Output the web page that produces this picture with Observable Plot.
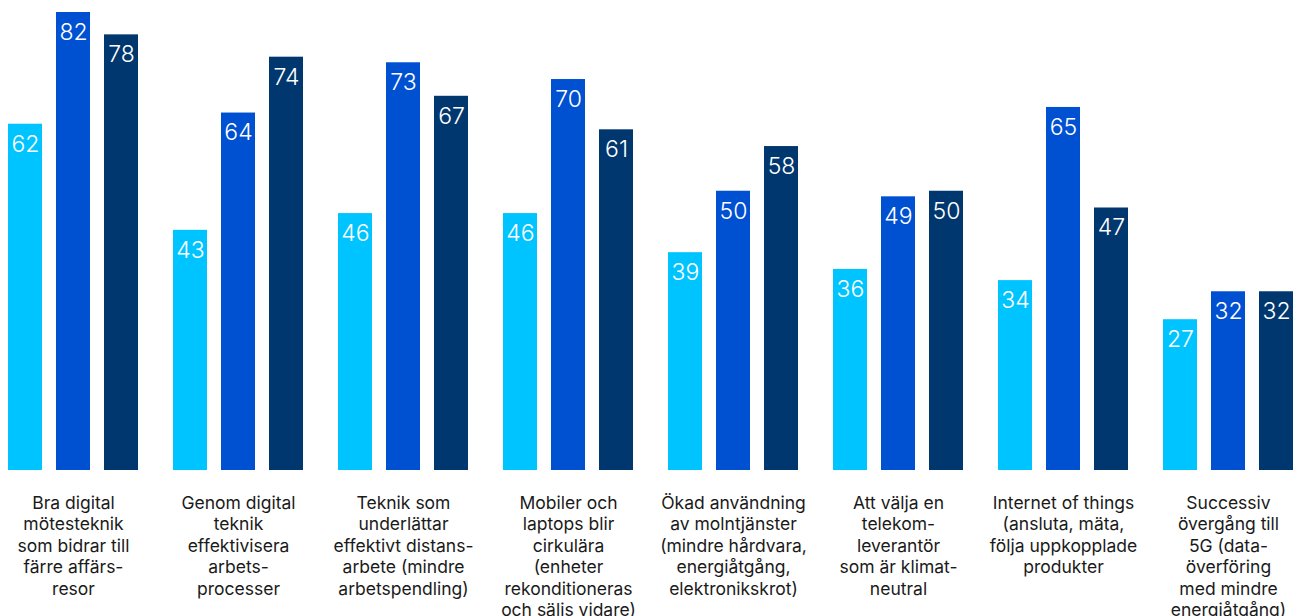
<!DOCTYPE html>
<html>
<head>
<meta charset="utf-8">
<script src="https://cdn.jsdelivr.net/npm/d3@7"></script>
<script src="https://cdn.jsdelivr.net/npm/@observablehq/plot@0.6"></script>
<style>
  html, body { margin: 0; padding: 0; background: #fff; }
  #chart svg { display: block; }
</style>
</head>
<body>
<div id="chart"></div>
<script>
const categories = [
  "Bra digital\nmötesteknik\nsom bidrar till\nfärre affärs-\nresor",
  "Genom digital\nteknik\neffektivisera\narbets-\nprocesser",
  "Teknik som\nunderlättar\neffektivt distans-\narbete (mindre\narbetspendling)",
  "Mobiler och\nlaptops blir\ncirkulära\n(enheter\nrekonditioneras\noch säljs vidare)",
  "Ökad användning\nav molntjänster\n(mindre hårdvara,\nenergiåtgång,\nelektronikskrot)",
  "Att välja en\ntelekom-\nleverantör\nsom är klimat-\nneutral",
  "Internet of things\n(ansluta, mäta,\nfölja uppkopplade\nprodukter",
  "Successiv\növergång till\n5G (data-\növerföring\nmed mindre\nenergiåtgång)"
];
const seriesNames = ["s1", "s2", "s3"];
const series1 = [62, 43, 46, 46, 39, 36, 34, 27];
const series2 = [82, 64, 73, 70, 50, 49, 65, 32];
const series3 = [78, 74, 67, 61, 58, 50, 47, 32];
const colors = ["#00c4ff", "#0050d2", "#00376e"];

const seriesValues = [series1, series2, series3];
const data = [];
categories.forEach((c, i) => {
  seriesNames.forEach((s, j) => {
    data.push({category: c, series: s, value: seriesValues[j][i]});
  });
});

const chart = Plot.plot({
  width: 1301,
  height: 616,
  marginTop: 0,
  marginLeft: 8,
  marginRight: 8,
  marginBottom: 146,
  style: {fontFamily: "Inter, 'Noto Sans', sans-serif", background: "#fff"},
  fx: {domain: categories, paddingInner: 35 / 165, paddingOuter: 0, axis: null},
  x: {domain: seriesNames, paddingInner: 14 / 48, paddingOuter: 0, axis: null},
  y: {domain: [0, 84.15], axis: null},
  color: {domain: seriesNames, range: colors},
  marks: [
    Plot.barY(data, {fx: "category", x: "series", y: "value", fill: "series"}),
    Plot.text(data, {
      fx: "category", x: "series", y: "value", text: d => String(d.value),
      dy: 20, lineAnchor: "middle", fill: "#fff", fontSize: 23, fontWeight: 300
    }),
    Plot.text(categories, {
      fx: d => d, text: d => d, frameAnchor: "bottom", dy: 23,
      lineAnchor: "top", lineHeight: 21.5 / 17.5, fontSize: 17.5, fill: "#1a1a1a"
    })
  ]
});
document.getElementById("chart").appendChild(chart);
</script>
</body>
</html>
